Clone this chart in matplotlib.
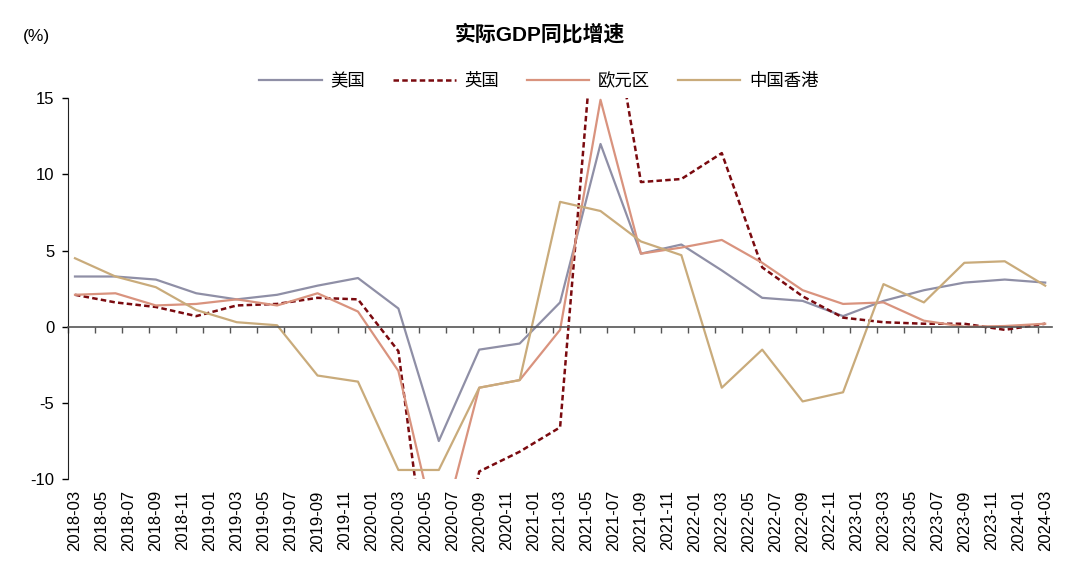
import matplotlib
matplotlib.use("Agg")
import matplotlib.pyplot as plt
import numpy as np

plt.rcParams["font.family"] = ["Liberation Sans", "Noto Sans CJK SC", "DejaVu Sans"]

# quarterly observations, 2018-03 .. 2024-03
quarters = [
    "2018-03", "2018-06", "2018-09", "2018-12",
    "2019-03", "2019-06", "2019-09", "2019-12",
    "2020-03", "2020-06", "2020-09", "2020-12",
    "2021-03", "2021-06", "2021-09", "2021-12",
    "2022-03", "2022-06", "2022-09", "2022-12",
    "2023-03", "2023-06", "2023-09", "2023-12",
    "2024-03",
]

us = [3.3, 3.3, 3.1, 2.2, 1.8, 2.1, 2.7, 3.2,
      1.2, -7.5, -1.5, -1.1, 1.6, 12.0, 4.8, 5.4,
      3.7, 1.9, 1.7, 0.7, 1.7, 2.4, 2.9, 3.1, 2.9]
uk = [2.1, 1.6, 1.3, 0.7, 1.4, 1.5, 1.9, 1.8,
      -1.6, -22.0, -9.5, -8.2, -6.6, 25.2, 9.5, 9.7,
      11.4, 3.9, 2.0, 0.6, 0.3, 0.2, 0.2, -0.2, 0.2]
euro = [2.1, 2.2, 1.4, 1.5, 1.8, 1.4, 2.2, 1.0,
        -2.9, -14.2, -4.0, -3.5, -0.2, 14.9, 4.8, 5.2,
        5.7, 4.2, 2.4, 1.5, 1.6, 0.4, 0.0, 0.05, 0.2]
hk = [4.5, 3.3, 2.6, 1.1, 0.3, 0.1, -3.2, -3.6,
      -9.4, -9.4, -4.0, -3.5, 8.2, 7.6, 5.6, 4.7,
      -4.0, -1.5, -4.9, -4.3, 2.8, 1.6, 4.2, 4.3, 2.7]

series_names = ["美国", "英国", "欧元区", "中国香港"]
colors = ["#8F8FA6", "#7A0A0F", "#D9937E", "#C9AB7B"]

# month index since 2018-03
def month_idx(s):
    y, m = s.split("-")
    return (int(y) - 2018) * 12 + int(m) - 3

x = np.array([month_idx(q) for q in quarters])
n_months = month_idx("2024-03")
label_pos = np.arange(0, n_months + 1, 2)
labels = []
for i in label_pos:
    yy = 2018 + (i + 2) // 12
    mm = (i + 2) % 12 + 1
    labels.append(f"{yy}-{mm:02d}")

fig = plt.figure(figsize=(10.8, 5.85), dpi=100)
ax = fig.add_axes([0.0632, 0.181, 0.9108, 0.651])

ax.plot(x, us, color=colors[0], lw=1.6, label=series_names[0])
ax.plot(x, uk, color=colors[1], lw=1.8, ls=(0, (2.2, 1.3)), label=series_names[1])
ax.plot(x, euro, color=colors[2], lw=1.6, label=series_names[2])
ax.plot(x, hk, color=colors[3], lw=1.6, label=series_names[3])

ax.set_xlim(-0.5, n_months + 0.5)
ax.set_ylim(-10, 15)
ax.set_yticks([-10, -5, 0, 5, 10, 15])
ax.set_yticklabels(["-10", "-5", "0", "5", "10", "15"])
ax.tick_params(axis="y", direction="out", length=4, width=1, labelsize=12, pad=6)

for s in ["top", "right"]:
    ax.spines[s].set_visible(False)
ax.spines["left"].set_color("#222222")
ax.spines["bottom"].set_position(("data", 0))
ax.spines["bottom"].set_color("#555555")
ax.spines["bottom"].set_linewidth(1.2)

# tick marks between categories, on the zero line
ax.set_xticks(np.arange(-0.5, n_months + 1, 2))
ax.tick_params(axis="x", direction="out", length=4, width=1, color="#555555",
               labelbottom=False)

# date labels along the bottom
sec = ax.secondary_xaxis("bottom")
sec.set_xticks(label_pos)
sec.set_xticklabels(labels, rotation=90)
sec.tick_params(length=0, labelsize=12, pad=8)
sec.spines["bottom"].set_visible(False)

fig.text(0.5, 1 - 34 / 585, "实际GDP同比增速", ha="center", va="center",
         fontsize=15, fontweight="bold")
fig.text(0.021, 1 - 37 / 585, "(%)", ha="left", va="center", fontsize=12.5)

fig.legend(loc="center", bbox_to_anchor=(0.499, 1 - 81 / 585), ncol=4,
           frameon=False, fontsize=12.5, handlelength=3.6, columnspacing=1.6,
           handletextpad=0.5)

fig.savefig("out.png", dpi=100)
